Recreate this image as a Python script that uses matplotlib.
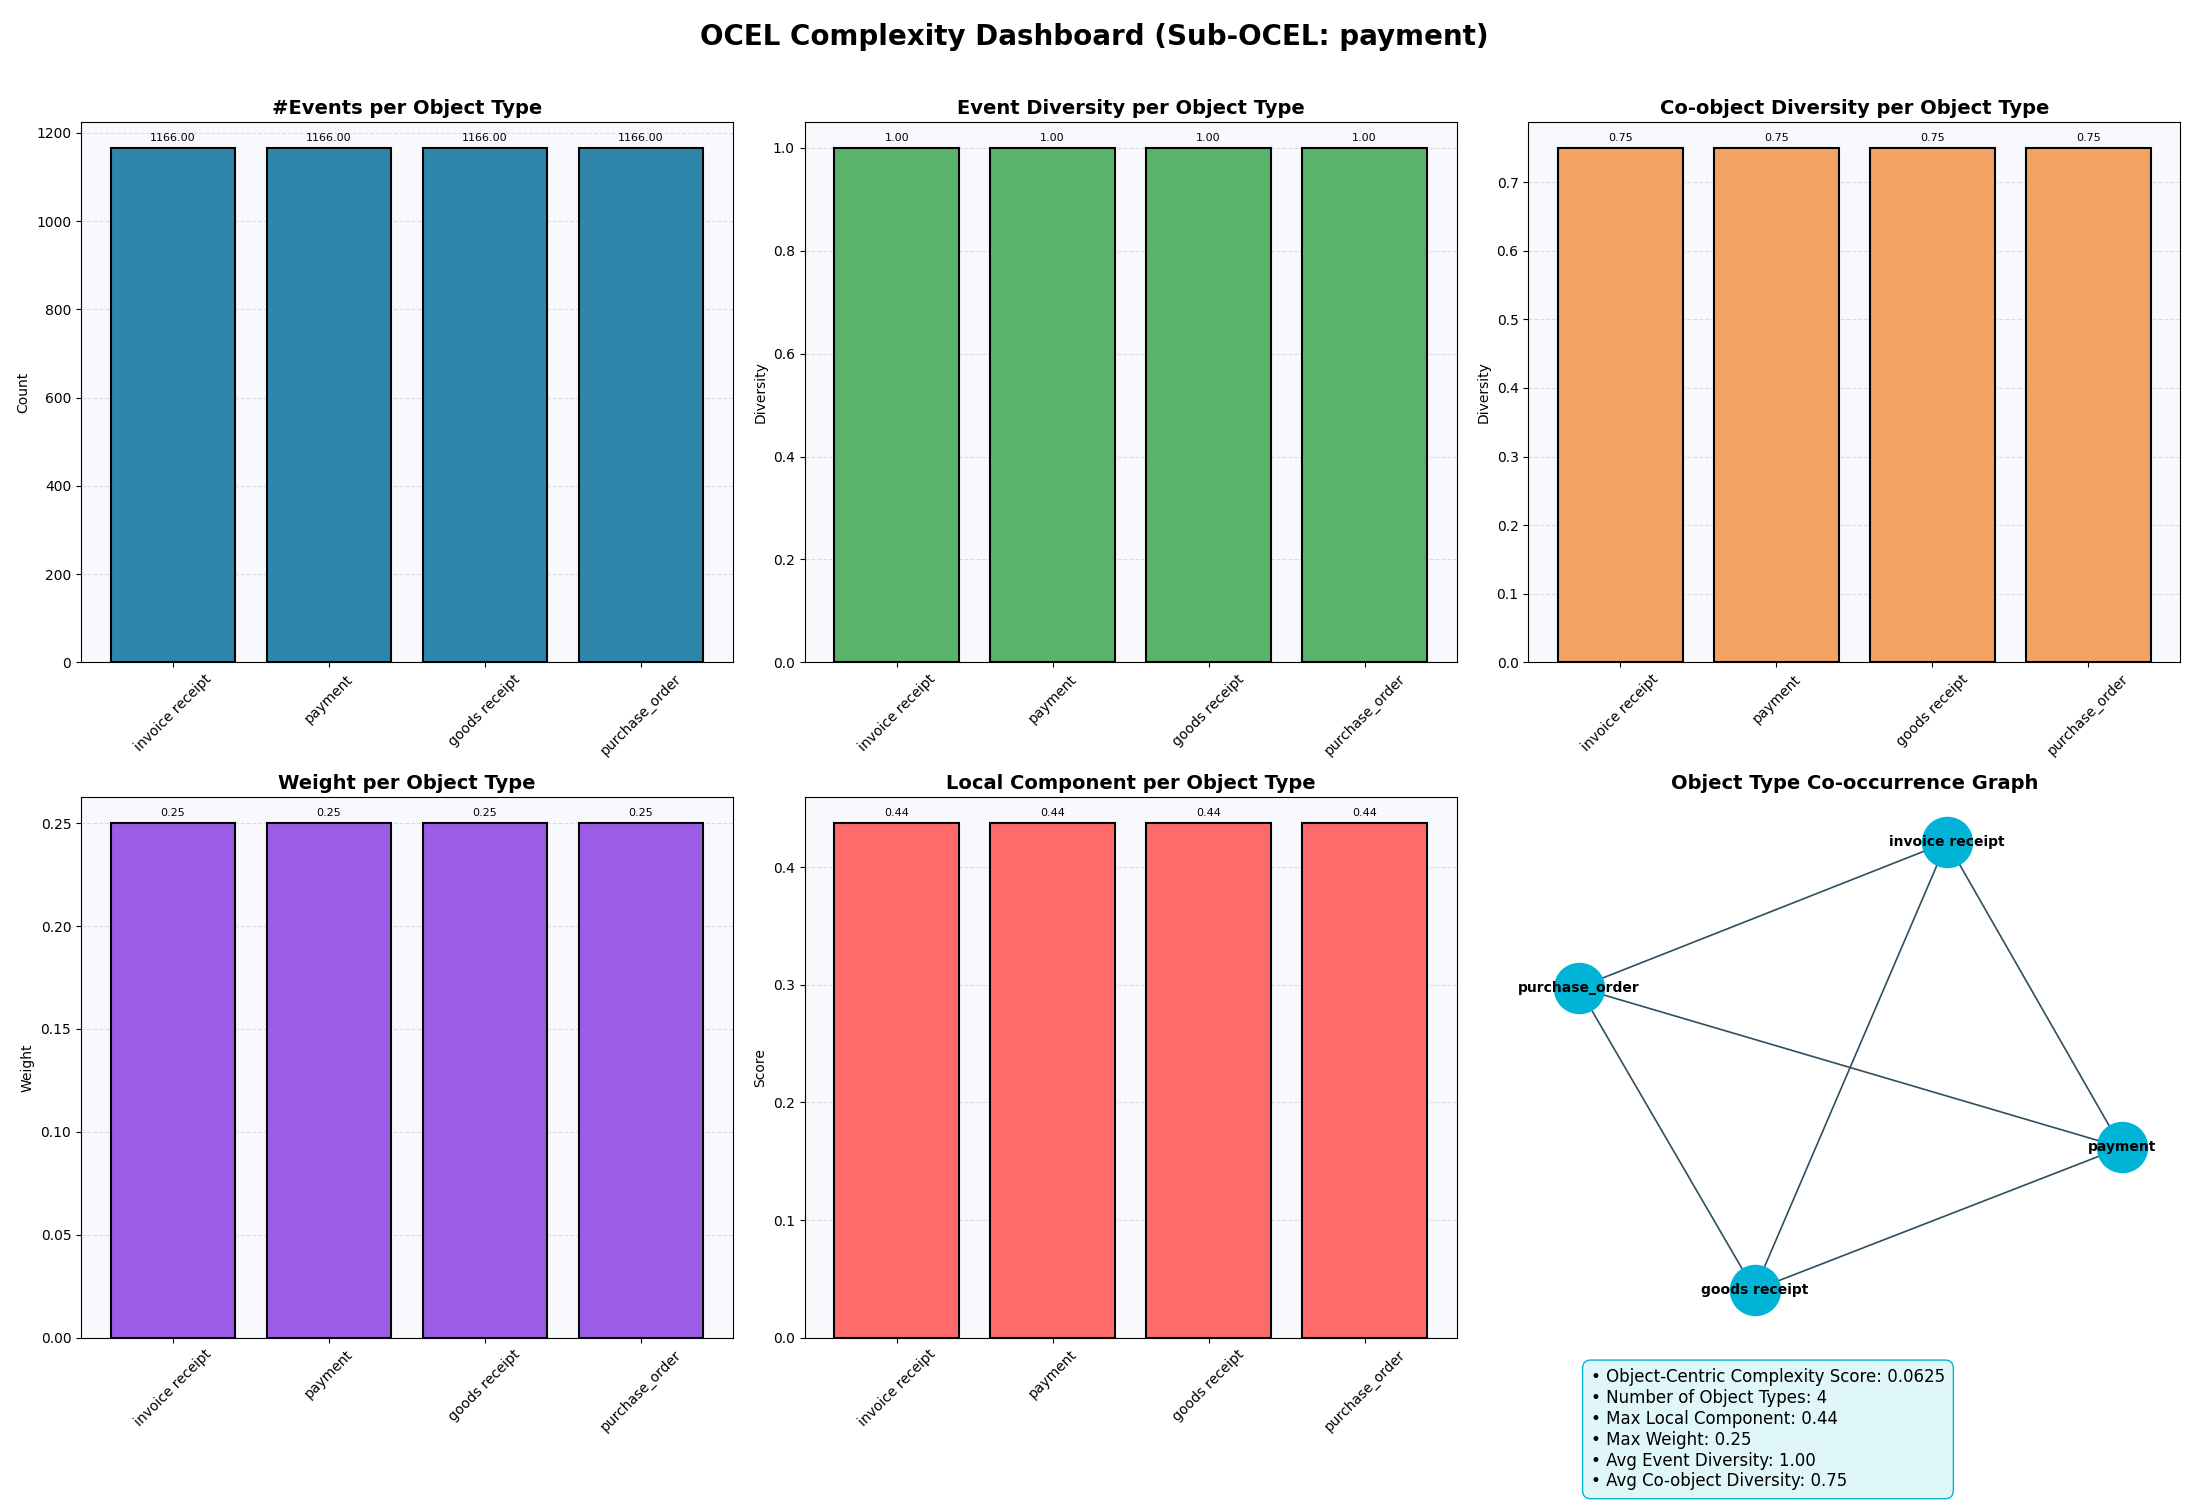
import matplotlib.pyplot as plt

types = ["invoice receipt", "payment", "goods receipt", "purchase_order"]
n_events = [1166, 1166, 1166, 1166]
event_div = [1.0, 1.0, 1.0, 1.0]
coobj_div = [0.75, 0.75, 0.75, 0.75]
weights = [0.25, 0.25, 0.25, 0.25]
local_comp = [0.4375, 0.4375, 0.4375, 0.4375]

node_names = ["invoice receipt", "purchase_order", "payment", "goods receipt"]
node_x = [0.642, 0.077, 0.91, 0.347]
node_y = [0.917, 0.648, 0.352, 0.088]
edges = [(0, 1), (0, 2), (0, 3), (1, 2), (1, 3), (2, 3)]

summary = [
    "Object-Centric Complexity Score: 0.0625",
    "Number of Object Types: 4",
    "Max Local Component: 0.44",
    "Max Weight: 0.25",
    "Avg Event Diversity: 1.00",
    "Avg Co-object Diversity: 0.75",
]

fig, axes = plt.subplots(2, 3, figsize=(21.89, 15.08), dpi=100)
fig.subplots_adjust(left=0.037, right=0.996, top=0.919, bottom=0.113,
                    hspace=0.25, wspace=0.11)
fig.suptitle("OCEL Complexity Dashboard (Sub-OCEL: payment)",
             fontsize=20, fontweight="bold", y=0.985)

panels = [
    (axes[0, 0], n_events, "#2E86AB", "#Events per Object Type", "Count"),
    (axes[0, 1], event_div, "#59B36A", "Event Diversity per Object Type", "Diversity"),
    (axes[0, 2], coobj_div, "#F2A262", "Co-object Diversity per Object Type", "Diversity"),
    (axes[1, 0], weights, "#9B5DE5", "Weight per Object Type", "Weight"),
    (axes[1, 1], local_comp, "#FF6B6B", "Local Component per Object Type", "Score"),
]

for ax, vals, color, title, ylabel in panels:
    ax.set_facecolor("#F8F9FC")
    bars = ax.bar(types, vals, color=color, edgecolor="black", linewidth=1.5, zorder=3)
    ax.set_title(title, fontsize=14, fontweight="bold")
    ax.set_ylabel(ylabel, fontsize=10)
    ax.grid(axis="y", linestyle="--", alpha=0.4, zorder=0)
    ax.tick_params(axis="x", rotation=45, labelsize=10)
    ymax = max(vals)
    for b, v in zip(bars, vals):
        ax.text(b.get_x() + b.get_width() / 2, v + ymax * 0.01, f"{v:.2f}",
                ha="center", va="bottom", fontsize=8)
    ax.set_ylim(0, ymax * 1.05)

ax = axes[1, 2]
ax.set_xlim(0, 1)
ax.set_ylim(0, 1)
ax.axis("off")
ax.set_title("Object Type Co-occurrence Graph", fontsize=14, fontweight="bold")
for i, j in edges:
    ax.plot([node_x[i], node_x[j]], [node_y[i], node_y[j]], color="#2F4F5F",
            linewidth=1.2, zorder=1)
ax.scatter(node_x, node_y, s=1300, color="#00B4D8", zorder=2, clip_on=False)
for name, x, y in zip(node_names, node_x, node_y):
    ax.text(x, y, name, ha="center", va="center", fontsize=10,
            fontweight="bold", zorder=3, clip_on=False)
ax.text(0.096, -0.057, "\n".join("• " + s for s in summary), transform=ax.transAxes,
        ha="left", va="top", fontsize=12,
        bbox=dict(boxstyle="round,pad=0.5", facecolor="#E0F7FA", edgecolor="#00B4D8"))

fig.savefig("out.png", dpi=100)
